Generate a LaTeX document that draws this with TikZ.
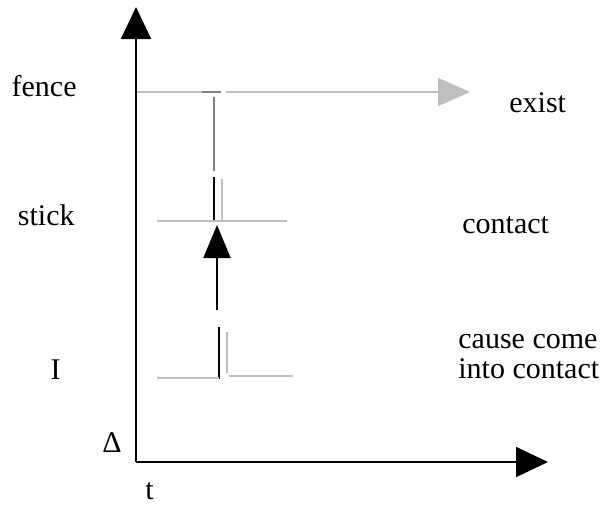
\documentclass[tikz,border=0pt]{standalone}
\usepackage{fontspec}
\setmainfont{Liberation Serif}
\usetikzlibrary{arrows.meta}

\tikzset{
	axis/.style={line width=0.9pt, -{Triangle[length=16pt,width=15pt]}},
	lite/.style={line width=0.85pt, color=black!25},
	mid/.style={line width=0.85pt, color=black!50},
	bar/.style={line width=1.3pt, color=black},
	lbl/.style={inner sep=0pt, font=\fontsize{15}{15}\selectfont}
}

\begin{document}
\begin{tikzpicture}[x=0.5pt, y=-0.5pt]
			%%%%% START %%%%%
			\useasboundingbox (0, 0) rectangle (605, 505);
			
			% axes
			\coordinate (O) at (136, 462);
			\coordinate (ytop) at (136, 7);
			\coordinate (xend) at (548, 462);
			\draw[axis] (O) -- (ytop);
			\draw[axis] (O) -- (xend);
			
			\node[lbl, anchor=base west] (delta) at (102, 452) {Δ};
			\node[lbl, anchor=base west] (t) at (145, 499) {t};
			
			% row labels
			\node[lbl, anchor=base east] (fence) at (77, 96) {fence};
			\node[lbl, anchor=base east] (stick) at (75, 225) {stick};
			\node[lbl, anchor=base] (I) at (55.5, 379) {I};
			
			\node[lbl, anchor=base west] (exist) at (509, 112) {exist};
			\node[lbl, anchor=base west] (contact) at (462, 233) {contact};
			\node[lbl, anchor=base west, align=left] (cause) at (458, 378) {cause come\\into contact};
			
			% fence
			\draw[lite] (137, 92) -- (202, 92);
			\draw[mid] (202, 92) -- (221, 92);
			\coordinate (fstart) at (226, 92);
			\coordinate (fend) at (470, 92);
			\draw[lite, -{Triangle[length=16pt,width=14pt]}] (fstart) -- (fend);
			\draw[mid] (214, 97) -- (214, 171);
			
			% stick
			\draw[bar] (214, 177) -- (214, 222);
			\draw[lite] (222, 179) -- (222, 220);
			\draw[lite] (157, 221) -- (287, 221);
			
			\coordinate (up0) at (217, 310);
			\coordinate (up1) at (217, 225);
			\draw[line width=1pt, -{Triangle[length=16.5pt,width=13.5pt]}] (up0) -- (up1);
			
			% I
			\draw[bar] (219, 327) -- (219, 379);
			\draw[lite] (157, 378) -- (219, 378);
			\draw[lite] (227, 332) -- (227, 373);
			\draw[lite] (229, 376) -- (293, 376);
			%%%%% END %%%%%
\end{tikzpicture}
\end{document}
